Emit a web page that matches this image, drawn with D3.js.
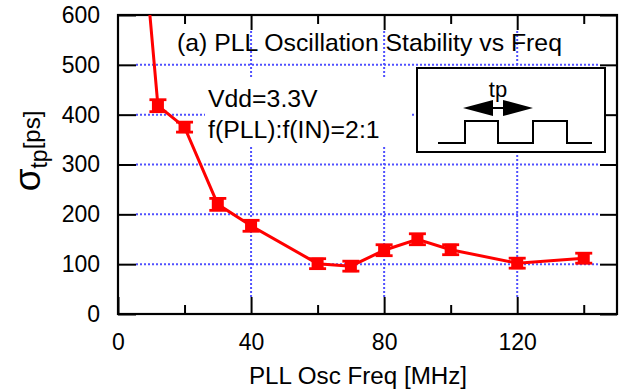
<!DOCTYPE html>
<html>
<head>
<meta charset="utf-8">
<script src="https://cdn.jsdelivr.net/npm/d3@7"></script>
<style>
  body { margin: 0; background: #fff; }
  text { font-family: "Liberation Sans", Arial, sans-serif; fill: #000; }
</style>
</head>
<body>
<div id="vis"></div>
<script>
// values
const freq = [8, 12, 20, 30, 40, 60, 70, 80, 90, 100, 120, 140];
const sigma = [720, 418, 375, 220, 177, 101, 96, 128, 150, 129, 102, 112];
const sigmaErr = [12, 12, 10, 12, 11, 10, 10, 11, 11, 10, 10, 10];

const xMajorTicks = [0, 40, 80, 120];
const xMinorTicks = [20, 60, 100, 140];
const yTicks = [0, 100, 200, 300, 400, 500, 600];
const xGrid = [40, 80, 120];
const yGrid = [100, 200, 300, 400, 500];

const CONFIG = {
    red: "#ff0000",
    grid: "#5050ff",
    dims: {
        w: 628,
        h: 389,
        margin: { top: 15, right: 11, bottom: 75, left: 118 }
    }
};

const width = CONFIG.dims.w - CONFIG.dims.margin.left - CONFIG.dims.margin.right;
const height = CONFIG.dims.h - CONFIG.dims.margin.top - CONFIG.dims.margin.bottom;

const root = d3.select("#vis")
    .append("svg")
    .attr("width", CONFIG.dims.w)
    .attr("height", CONFIG.dims.h);

const svg = root.append("g")
    .attr("transform", `translate(${CONFIG.dims.margin.left},${CONFIG.dims.margin.top})`);

const xScale = d3.scaleLinear().domain([0, 150]).range([0, width]);
const yScale = d3.scaleLinear().domain([0, 600]).range([height, 0]);

const data = freq.map((f, i) => ({ f: f, s: sigma[i], e: sigmaErr[i] }));

// grid (stops at the inner ends of the ticks)
svg.append("g").selectAll("line.hgrid")
    .data(yGrid)
    .join("line")
    .attr("x1", 18).attr("x2", width - 18)
    .attr("y1", d => yScale(d)).attr("y2", d => yScale(d))
    .attr("stroke", CONFIG.grid)
    .attr("stroke-width", 2)
    .attr("stroke-dasharray", "2,2");

svg.append("g").selectAll("line.vgrid")
    .data(xGrid)
    .join("line")
    .attr("y1", height - 17).attr("y2", 15)
    .attr("x1", d => xScale(d)).attr("x2", d => xScale(d))
    .attr("stroke", CONFIG.grid)
    .attr("stroke-width", 2)
    .attr("stroke-dasharray", "2,2");

// white box behind the condition labels
svg.append("rect")
    .attr("x", 87).attr("y", 63)
    .attr("width", 205).attr("height", 69)
    .attr("fill", "#fff");

// axes with inward ticks
svg.append("g")
    .attr("transform", `translate(0,${height})`)
    .call(d3.axisBottom(xScale).tickValues(xMajorTicks).tickSizeInner(-17).tickSizeOuter(0).tickPadding(20))
    .call(g => g.select(".domain").remove());

svg.append("g")
    .attr("transform", `translate(0,${height})`)
    .call(d3.axisBottom(xScale).tickValues(xMinorTicks).tickSizeInner(-9).tickSizeOuter(0).tickFormat(""))
    .call(g => g.select(".domain").remove());

svg.append("g")
    .call(d3.axisTop(xScale).tickValues(xMajorTicks.slice(1)).tickSizeInner(-15).tickSizeOuter(0).tickFormat(""))
    .call(g => g.select(".domain").remove());

svg.append("g")
    .call(d3.axisTop(xScale).tickValues(xMinorTicks).tickSizeInner(-9).tickSizeOuter(0).tickFormat(""))
    .call(g => g.select(".domain").remove());

svg.append("g")
    .call(d3.axisLeft(yScale).tickValues(yTicks).tickSizeInner(-18).tickSizeOuter(0).tickPadding(18))
    .call(g => g.select(".domain").remove());

svg.append("g")
    .attr("transform", `translate(${width},0)`)
    .call(d3.axisRight(yScale).tickValues(yTicks).tickSizeInner(-17).tickSizeOuter(0).tickFormat(""))
    .call(g => g.select(".domain").remove());

svg.selectAll(".tick line").attr("stroke", "#000").attr("stroke-width", 2);
svg.selectAll(".tick text")
    .style("font-family", "'Liberation Sans', Arial, sans-serif")
    .style("font-size", "23px")
    .attr("fill", "#000");

svg.append("rect")
    .attr("width", width).attr("height", height)
    .attr("fill", "none")
    .attr("stroke", "#000")
    .attr("stroke-width", 2.2);

// inset: pulse drawing
const inset = svg.append("g").attr("transform", "translate(299,53)");
inset.append("rect")
    .attr("width", 188).attr("height", 84)
    .attr("fill", "#fff")
    .attr("stroke", "#000")
    .attr("stroke-width", 2);
inset.append("path")
    .attr("d", "M21,75 H48 V53 H81 V75 H116 V53 H150 V75 H175")
    .attr("fill", "none")
    .attr("stroke", "#000")
    .attr("stroke-width", 2);
inset.append("path")
    .attr("d", "M46,40 L76,32 L76,48 Z M116,40 L86,32 L86,48 Z")
    .attr("fill", "#000");
inset.append("line")
    .attr("x1", 74).attr("x2", 88).attr("y1", 40).attr("y2", 40)
    .attr("stroke", "#000").attr("stroke-width", 2);
inset.append("text")
    .attr("x", 81).attr("y", 29)
    .attr("text-anchor", "middle")
    .style("font-size", "22px")
    .text("tp");

// data, clipped to the frame
svg.append("clipPath").attr("id", "clip")
    .append("rect").attr("width", width).attr("height", height);

const plot = svg.append("g").attr("clip-path", "url(#clip)");

const line = d3.line().x(d => xScale(d.f)).y(d => yScale(d.s));

plot.append("path")
    .datum(data)
    .attr("d", line)
    .attr("fill", "none")
    .attr("stroke", CONFIG.red)
    .attr("stroke-width", 3);

const pts = plot.selectAll(".pt")
    .data(data)
    .join("g")
    .attr("class", "pt");

pts.append("line")
    .attr("x1", d => xScale(d.f)).attr("x2", d => xScale(d.f))
    .attr("y1", d => yScale(d.s - d.e)).attr("y2", d => yScale(d.s + d.e))
    .attr("stroke", CONFIG.red).attr("stroke-width", 2.8);

pts.selectAll(".cap")
    .data(d => [d.s - d.e, d.s + d.e].map(v => ({ f: d.f, v: v })))
    .join("line")
    .attr("x1", d => xScale(d.f) - 8.5).attr("x2", d => xScale(d.f) + 8.5)
    .attr("y1", d => yScale(d.v)).attr("y2", d => yScale(d.v))
    .attr("stroke", CONFIG.red).attr("stroke-width", 2.8);

pts.append("rect")
    .attr("x", d => xScale(d.f) - 6).attr("y", d => yScale(d.s) - 6)
    .attr("width", 12).attr("height", 12)
    .attr("fill", CONFIG.red);

// labels
svg.append("text")
    .attr("x", 59).attr("y", 36)
    .style("font-size", "24.8px")
    .text("(a) PLL Oscillation Stability vs Freq");

svg.append("text")
    .attr("x", 90).attr("y", 92)
    .style("font-size", "24.8px")
    .text("Vdd=3.3V");

svg.append("text")
    .attr("x", 90).attr("y", 123)
    .style("font-size", "24.8px")
    .text("f(PLL):f(IN)=2:1");

root.append("text")
    .attr("x", 358)
    .attr("y", 384)
    .attr("text-anchor", "middle")
    .style("font-size", "24.2px")
    .text("PLL Osc Freq [MHz]");

const ylab = root.append("text")
    .attr("transform", "translate(40,151) rotate(-90)")
    .attr("text-anchor", "middle");
ylab.append("tspan").style("font-size", "37px").text("σ");
ylab.append("tspan").style("font-size", "23px").attr("dy", 7).text("tp");
ylab.append("tspan").style("font-size", "24px").attr("dy", -7).text("[ps]");
</script>
</body>
</html>
